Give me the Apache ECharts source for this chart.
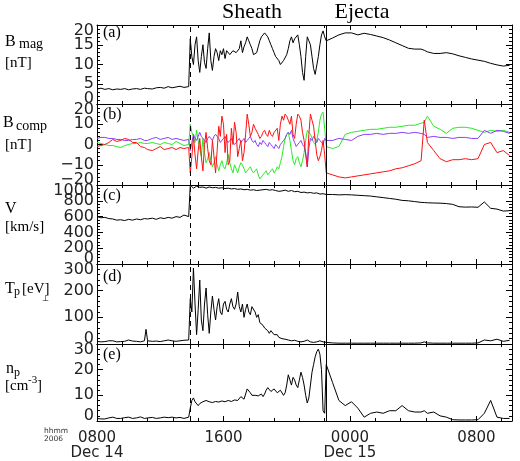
<!DOCTYPE html>
<html><head><meta charset="utf-8">
<script src="https://cdn.jsdelivr.net/npm/echarts@6/dist/echarts.min.js"></script>
<style>html,body{margin:0;padding:0;background:#fff}#c{width:520px;height:461px}</style>
</head><body><div id="c"></div>
<script>
// time in hours since 0800 UT, Dec 14 2006
const T = [
 0,0.25,0.5,0.75,1,1.25,1.5,1.75,2,2.25,2.5,2.75,3,3.1,3.2,3.5,3.75,4,4.25,4.5,4.75,5,5.25,5.5,5.8,
 5.9,6,6.1,6.2,6.3,6.4,6.5,6.6,6.7,6.8,6.9,7,7.1,7.2,7.3,7.4,7.5,7.6,7.7,7.8,7.9,8,8.1,8.2,8.3,8.4,8.5,8.6,8.7,8.8,8.9,
 9,9.1,9.2,9.3,9.4,9.5,9.6,9.7,9.8,9.9,10,10.1,10.2,10.3,10.4,10.5,10.6,10.7,10.8,10.9,11,11.1,11.2,11.3,11.4,11.5,11.6,11.7,11.8,11.9,
 12,12.1,12.2,12.3,12.4,12.5,12.6,12.7,12.8,12.9,13,13.1,13.2,13.3,13.4,13.5,13.6,13.7,13.8,13.9,14,14.1,14.2,14.3,14.4,14.5,
 14.9,15.3,15.7,16.1,16.5,16.9,17.3,17.7,18.1,18.5,18.9,19.3,19.7,20.1,20.5,20.7,20.9,21.3,21.7,22.1,22.5,22.9,23.3,23.7,24.1,24.5,24.9,25.3,25.7,26.1
];
const SHOCK_T = 5.87;
const EJECTA_T = 14.51;
const T_MAX = 26.25;
const xTickLabels = {0:'0800\nDec 14', 8:'1600', 16:'0000\nDec 15', 24:'0800'};

const bmag = [
 3.8,4.0,3.7,3.9,3.6,3.8,3.7,3.9,3.6,3.8,3.9,3.7,4.0,3.8,3.9,3.8,4.1,4.2,4.0,4.4,4.1,4.3,4.5,4.2,4.4,
 16.5,12,10,15,17,11,8,12,15,10.5,9,14,18,11,8.5,12,14,13,11,13.5,12.5,14,11.5,13.5,13,12.5,12,13.5,14,13,12.5,
 14,16,13,14.5,15.5,17,16,15,14,12.5,12,13,14.5,16,17,17.5,18,18.5,17,16,15,14,13,12,11.5,11,10,10.5,11,11.5,
 12.5,14,16,17,15.5,16.5,17,17.5,15,12,8,6,12,17,16,15,12,9,7.5,8,12,15,17.5,18.5,17,16,
 16.7,17.5,18,18,17.5,17.9,17.6,17.2,16.8,16.2,15.5,14.8,14.1,13.9,13.9,13.6,13.2,12.8,12.8,13.0,12.7,12.2,11.8,11.4,11.1,10.8,10.3,9.9,9.6,9.8
];
const bRed = [
 -1,-0.5,0,1,2.5,1.5,2,3,2.5,1,1,-1,-1.5,-2,-2.5,-3,-2,-1,-2.5,-2,-1.5,-2.5,-1.5,-2,-1.5,
 -14,-6,4,-5,-12,-3,3,-6,-13,0,6,-2,-8,-10,2,-6,-14,-3,9,4,14,10,-4,5,-10,-8,8,0,11,6,-6,
 -2,2,-8,-4,5,15,10,4,6,10,8,8,5,3,4,6,7,5,4,7,5,4,6,6,8,2,10,14,12,15,
 14,12,10,14,5,3,10,15,14,12,6,2,-5,-11,5,15,12,9,2,-5,-8,-6,-3,2,-5,-14,
 -15,-16,-16.5,-16,-15.5,-15,-14.5,-14,-13.5,-13,-12,-11.5,-10.5,-9.5,-8,12,1,-3,-7,-8.5,-7.5,-7.5,-7,-7.5,-7,0,1,-4,-3,-5.5
];
const bGreen = [
 1,0.5,0,-0.5,-0.5,-1,-1.5,-0.5,0,0.5,0.5,1,0.5,0,0.5,1,0.5,0,1,0.5,0,1.5,0.5,-0.5,0,
 10,6,4,1,7,2,-2,-6,3,-4,-9,-7,-4,-8,-11,-9,-6,-10,-13,-10,-8,-11,-12,-9,-5,-9,-12,-14,-10,-12,-14,
 -11,-9,-10,-12,-14,-13,-12,-11,-13,-14,-13,-12,-15,-17,-16,-15,-14,-13,-15,-14,-13,-12,-14,-13,-11,-12,-9,-6,-1,3,
 5,6,2,-3,-8,-10,-7,-6,-9,-11,-8,-4,2,7,6,5,3,1,0,2,6,12,15,16,8,-1,
 -2,-1,5,6,6.5,7,7.5,7.5,8,8.5,8.5,9,9.5,9.5,10.5,11,14,9,7.5,5.5,8,8.5,8.5,8,7,6,7,6.5,7,6
];
const bPurple = [
 3,3.5,3.5,3,3,2.5,2.5,2,2,2.5,2.5,3,2,2.5,2,3,3.5,2.5,3,3.5,2.5,3,2.5,2,2.5,
 -3,1,5,3,2,4,6,4,3,2,1,3,4,3,2,4,5,4,3,1,2,3,4,2,1,2,3,1,0,1,2,
 3,1,2,3,1,2,3,4,2,1,2,0,-1,1,0,2,1,0,-1,1,0,-1,-2,0,-1,-2,0,1,2,3,
 5,6,5,7,3,1,-1,0,1,2,0,-1,-4,-11,-2,3,2,4,3,1,3,2,1,0,3,2,
 2,3,2.5,2,4,5,5,5.5,5,5.5,5.5,6,5.5,6,5.5,5,3.5,4,3.5,3.5,3,3.5,3.5,3,3,7,5.5,7,6.5,5.5
];
const vel = [
 600,585,590,575,570,555,560,550,565,555,570,560,575,565,570,580,565,585,575,590,580,600,590,620,600,
 1000,975,960,980,985,965,970,980,975,965,960,970,975,960,965,975,970,958,960,970,965,950,955,962,960,948,950,958,955,942,945,
 955,950,938,940,950,945,932,935,945,940,928,930,940,935,945,940,950,945,938,935,945,940,932,930,922,920,930,925,935,935,
 925,920,930,930,918,915,925,920,908,905,915,910,898,900,910,905,892,895,905,900,888,885,895,890,878,880,
 880,875,878,875,870,865,860,850,840,830,820,805,800,790,780,778,775,772,770,765,755,725,720,722,718,785,705,695,670,675
];
const tp = [
 10,8,9,12,12,8,9,10,15,11,10,8,12,55,12,10,11,9,12,15,12,10,12,14,15,
 170,120,285,150,35,130,240,90,50,150,210,110,40,120,180,130,90,140,170,120,110,150,160,130,120,150,170,140,130,150,195,
 140,120,150,100,130,150,120,110,140,135,120,100,110,80,85,70,60,55,50,40,50,45,35,30,35,25,22,20,24,18,
 14,15,18,12,10,14,11,10,12,8,9,10,7,15,9,8,7,6,9,8,10,12,7,8,6,6,
 4,3,3,3,3,3,3,3,3,3,3,3,3,3,4,8,4,3,3,3,3,3,3,3,4,15,12,18,10,14
];
const np = [
 1,0.8,0.8,1.2,1.5,1,1,1.3,1.5,1,1.2,1.6,1,1.5,1.2,1.4,1,1.2,1.5,1.3,1.5,1.2,1.4,1,1.5,
 5,8,9,7.5,7,6,6.8,7.2,7.5,7,8,7.4,7.5,7.8,7.2,7,7.6,7.2,7.4,7.9,7.8,7.2,7.5,7.8,8,7.4,7.6,8,8.2,7.6,8,
 8.6,9.5,9,8.5,10.5,12.5,12,11,10,10.5,10,9.5,9.8,10,10.5,9.5,10.5,12,13,12.5,11.5,11.5,12.5,12.5,11,11,12,12,10,11,
 14,18,16,14,17,16,14,13,16,19,17,14,10,7,9,14,19,22,25,27,28,26,20,4,3,22,
 15,8,6,7.5,5,1.5,3,3.5,3,4,4,6,4,3.5,3.5,4,3,3.5,2,1.5,0.5,0.4,0.4,0.4,0.5,3,8,1.5,1,1
];

// panel y ranges [min, max, interval]
const ranges = [[0,20,5],[-20,20,10],[0,1000,200],[0,300,100],[0,30,10]];
const grids = [{top:25,height:79},{top:104,height:81},{top:185,height:79},{top:264,height:80},{top:344,height:79}];

const TICKF = 'DejaVu Sans', SERIF = 'Liberation Serif';
const chart = echarts.init(document.getElementById('c'), null, {renderer:'canvas'});

const gridOpt = grids.map(g => ({left:97, width:415, top:g.top, height:g.height, containLabel:false}));
const fmtNum = v => (v<0 ? '\u2212'+Math.abs(v) : String(v));
const xAxes = [], yAxes = [];
grids.forEach((g,i) => {
  ['bottom','top'].forEach(pos => {
    xAxes.push({
      type:'value', gridIndex:i, position:pos, min:0, max:T_MAX, interval:8,
      axisLine:{show:true, onZero:false, lineStyle:{color:'#000', width:1}},
      axisTick:{show:true, inside:true, length:5, lineStyle:{color:'#000'}},
      minorTick:{show:true, splitNumber:5, length:3, lineStyle:{color:'#000'}},
      splitLine:{show:false},
      axisLabel:{show: (i===4 && pos==='bottom'), fontFamily:TICKF, fontSize:15, lineHeight:15, color:'#222', margin:10,
        showMinLabel:true, showMaxLabel:true,
        formatter: v => (xTickLabels[v] !== undefined ? xTickLabels[v] : '')}
    });
  });
  const [mn,mx,iv] = ranges[i];
  // main left axis: ticks + inner labels
  yAxes.push({
    type:'value', gridIndex:i, position:'left', min:mn, max:mx, interval:iv,
    axisLine:{show:true, onZero:false, lineStyle:{color:'#000', width:1}},
    axisTick:{show:true, inside:true, length:6, lineStyle:{color:'#000'}},
    minorTick:{show:true, splitNumber:5, length:3, lineStyle:{color:'#000'}},
    splitLine:{show:false},
    axisLabel:{show:true, fontFamily:TICKF, fontSize:16, color:'#222', margin:3,
      showMinLabel:false, showMaxLabel:false, formatter: fmtNum}
  });
  // extreme labels (min/max), nudged inward like the original
  yAxes.push({
    type:'value', gridIndex:i, position:'left', min:mn, max:mx, interval:(mx-mn),
    axisLine:{show:false, onZero:false}, axisTick:{show:false}, minorTick:{show:false}, splitLine:{show:false},
    axisLabel:{show:true, fontFamily:TICKF, fontSize:16, color:'#222', margin:3,
      showMinLabel:true, showMaxLabel:true,
      rich:{
        hi:{fontFamily:TICKF, fontSize:16, color:'#222', padding:[12,0,0,0]},
        lo:{fontFamily:TICKF, fontSize:16, color:'#222', padding:[0,0,10,0]}
      },
      formatter: v => (v===mx ? '{hi|'+fmtNum(v)+'}' : '{lo|'+fmtNum(v)+'}')}
  });
  // right axis: ticks only
  yAxes.push({
    type:'value', gridIndex:i, position:'right', min:mn, max:mx, interval:iv,
    axisLine:{show:true, onZero:false, lineStyle:{color:'#000', width:1}},
    axisTick:{show:true, inside:true, length:6, lineStyle:{color:'#000'}},
    minorTick:{show:true, splitNumber:5, length:3, lineStyle:{color:'#000'}},
    splitLine:{show:false}, axisLabel:{show:false}
  });
});

const pairs = arr => T.map((t,k) => [t, arr[k]]);
const mark = {
  silent:true, symbol:['none','none'], label:{show:false},
  lineStyle:{color:'#000', width:1},
  data:[{xAxis:SHOCK_T, lineStyle:{type:[5,4], color:'#000', width:1}},
        {xAxis:EJECTA_T, lineStyle:{type:'solid', color:'#000', width:1}}]
};
function line(i, arr, color, withMark){
  const s = {type:'line', xAxisIndex:2*i, yAxisIndex:3*i, data:pairs(arr), showSymbol:false,
    lineStyle:{color, width:1}, itemStyle:{color}, animation:false, z:3};
  if (withMark) s.markLine = mark;
  return s;
}
const series = [
  line(0, bmag, '#000', true),
  line(1, bGreen, '#22ee22', true),
  line(1, bPurple, '#8b3dff', false),
  line(1, bRed, '#ff1010', false),
  line(2, vel, '#000', true),
  line(3, tp, '#000', true),
  line(4, np, '#000', true)
];

function txt(x, y, text, size, opts){
  opts = opts || {};
  return {type:'text', x, y, silent:true, z:10, style:{text, fontFamily:opts.family||SERIF, fontSize:size,
    fill:opts.color||'#000', align:opts.align||'left', verticalAlign:'middle'}};
}
const graphic = [
  txt(252, 12.5, 'Sheath', 22, {align:'center'}),
  txt(362, 12.5, 'Ejecta', 22, {align:'center'}),
  txt(5, 42, 'B', 16), txt(19, 44, 'mag', 14), txt(5, 63, '[nT]', 15),
  txt(3, 123, 'B', 16), txt(16, 126, 'comp', 14), txt(5, 145, '[nT]', 15),
  txt(5, 209, 'V', 16), txt(5, 227, '[km/s]', 15),
  txt(5, 289, 'T', 16), txt(14, 292, 'p', 12), txt(22, 289, '[eV]', 15), txt(45, 299, '\u22a5', 8, {align:'center'}),
  txt(6, 369, 'n', 16), txt(14, 373, 'p', 12), txt(5, 386, '[cm', 15), txt(28, 380, '-3', 11), txt(37, 386, ']', 15),
  txt(103, 33, '(a)', 16), txt(103, 115, '(b)', 16), txt(103, 196, '(c)', 16), txt(103, 277, '(d)', 16), txt(103, 355, '(e)', 16),
  txt(44, 431, 'hhmm', 7.5, {family:TICKF, color:'#333'}), txt(44, 439, '2006', 7.5, {family:TICKF, color:'#333'})
];

chart.setOption({animation:false, backgroundColor:'#fff', grid:gridOpt, xAxis:xAxes, yAxis:yAxes, series, graphic});
</script></body></html>
